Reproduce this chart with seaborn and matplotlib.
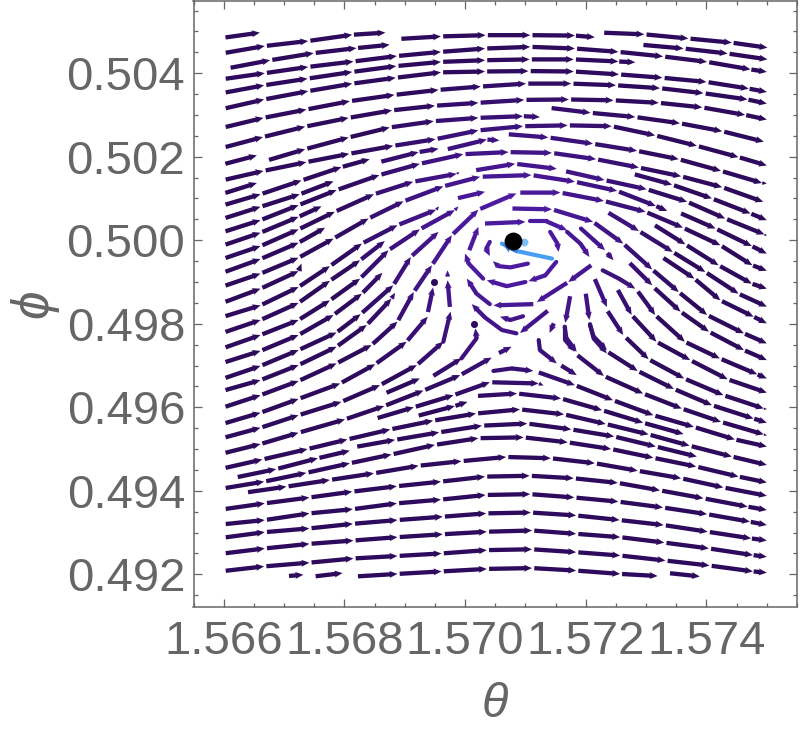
import numpy as np
import pandas as pd
import matplotlib
matplotlib.use("Agg")
import matplotlib.pyplot as plt
from matplotlib.ticker import MultipleLocator, FormatStrFormatter
from matplotlib.colors import to_rgb
import seaborn as sns

# Streamline readings: theta = 1.570 + t * 1e-3, phi = 0.500 + p * 1e-3
THETA0, PHI0, MILLI = 1.570, 0.500, 1e-3

# Chains: every consecutive pair of knots is one arrow
r01_t = [-4, -3.40]; r01_p = [4.85, 4.97]
r02_t = [-4, -3.32, -2.60, -1.87, -1.32]; r02_p = [4.48, 4.65, 4.77, 4.92, 4.97]
r03_t = [-3.92, -3.23, -2.51, -1.80, -1.25]; r03_p = [4.12, 4.31, 4.48, 4.60, 4.68]
r04_t = [-1.09, -.40, .34, 1.08, 1.82, 2.15]; r04_p = [4.82, 4.88, 4.91, 4.91, 4.90, 4.86]
r05_t = [2.27, 2.97, 3.70, 4.42, 5.01]; r05_p = [4.97, 4.93, 4.83, 4.73, 4.61]
r06_t = [-4, -3.32, -2.60, -1.85, -1.13, -.40, .33, 1.08, 1.82, 2.54, 3.28, 4.01, 4.73, 5.00]
r06_p = [3.86, 4.00, 4.15, 4.28, 4.41, 4.51, 4.59, 4.63, 4.59, 4.51, 4.40, 4.27, 4.09, 4.03]
r07_t = [2.92, 3.62, 4.35, 5.01]; r07_p = [4.68, 4.59, 4.47, 4.33]
r08_t = [-4, -3.33, -2.61, -1.87, -1.14, -.40, .33, 1.07, 1.80, 2.54, 2.82]
r08_p = [3.53, 3.71, 3.87, 4.03, 4.17, 4.27, 4.31, 4.33, 4.33, 4.28, 4.26]
r09_t = [-4, -3.33, -2.60, -1.87, -1.15, -.40, .33, 1.05, 1.80, 2.55, 3.27, 4.00, 4.70, 5.00]
r09_p = [3.15, 3.37, 3.57, 3.75, 3.89, 4.02, 4.04, 4.05, 4.04, 3.97, 3.89, 3.79, 3.63, 3.55]
r10_t = [-4, -3.34, -2.63, -1.91, -1.17, -.44, .26, 1.01, 1.76, 2.50, 3.23, 3.95, 4.68, 5.00]
r10_p = [2.70, 2.93, 3.13, 3.33, 3.48, 3.60, 3.68, 3.75, 3.75, 3.71, 3.64, 3.52, 3.37, 3.27]
r11_t = [-4, -3.35, -2.65, -1.93, -1.21, -.50, .22, .98, 1.72, 2.46, 3.21, 3.93, 4.64, 5.0]
r11_p = [2.22, 2.47, 2.72, 2.93, 3.11, 3.22, 3.29, 3.36, 3.37, 3.35, 3.29, 3.18, 3.00, 2.89]
r12_t = [-4, -3.45]; r12_p = [1.82, 2.03]
r13_t = [-3.28, -2.65, -1.93, -1.25, -.52, .22, .96, 1.24]
r13_p = [1.91, 2.18, 2.46, 2.70, 2.85, 2.93, 2.97, 2.95]
r14_t = [1.40, 2.08, 2.82, 3.56, 4.26, 4.95]; r14_p = [3.17, 3.05, 2.95, 2.80, 2.61, 2.36]
r15_t = [-4, -3.34, -2.63, -1.92, -1.19, -.49, .22, .96, 1.70, 2.43, 3.15, 3.84, 4.53, 5.00]
r15_p = [1.44, 1.66, 1.87, 2.07, 2.26, 2.42, 2.63, 2.73, 2.75, 2.73, 2.51, 2.26, 1.99, 1.79]
r16_t = [-4, -3.45]; r16_p = [1.12, 1.37]
a_t = [-4, -3.39, -2.71, -2.05, -1.58]; a_p = [.84, 1.10, 1.43, 1.75, 1.94]
b_t = [-4, -3.39, -2.74, -2.18]; b_p = [.52, .80, 1.10, 1.41]
c_t = [-4, -3.39, -2.76, -2.13, -1.42, -.75, -.03, .72, 1.44, 2.17, 2.88, 3.58, 4.26, 4.94]
c_p = [.20, .48, .84, 1.20, 1.56, 1.83, 2.06, 2.11, 2.09, 1.94, 1.74, 1.53, 1.27, .92]
d_t = [-4, -3.39, -2.76, -2.38]; d_p = [-.12, .18, .56, .81]
e_t = [-4, -3.39, -2.76, -2.16, -1.51, -.86, -.14, -.09]
e_p = [-.44, -.14, .26, .68, 1.10, 1.40, 1.59, 1.63]
f_t = [-4, -3.39, -2.76, -2.32]; f_p = [-.77, -.45, -.06, .30]
g_t = [-4, -3.39, -2.76, -2.18, -1.60, -1.02, -.36, .25, 1.10, 1.82, 2.52, 3.16, 3.35]
g_p = [-1.10, -.80, -.42, .04, .52, .93, 1.29, 1.52, 1.56, 1.40, 1.18, .82, .70]
h_t = [-4, -3.39, -2.76, -2.71]; h_p = [-1.49, -1.16, -.74, -.56]
i_t = [-4, -3.39, -2.76, -2.24, -1.71, -1.12, -.48, -.43]
i_p = [-1.83, -1.56, -1.12, -.62, -.08, .36, .73, .81]
j_t = [-4, -3.39, -2.76, -2.24, -1.74, -1.33]; j_p = [-2.21, -1.91, -1.50, -.97, -.48, -.02]
k_t = [-4, -3.39, -2.76, -2.24, -1.74, -1.27, -.75, -.17, -.11]
k_p = [-2.58, -2.27, -1.91, -1.44, -.92, -.24, .26, .72, .81]
l_t = [-4, -3.39, -2.76, -2.18, -1.71, -1.37]; l_p = [-2.93, -2.65, -2.27, -1.79, -1.28, -.78]
m_t = [-4, -3.39, -2.76, -2.13, -1.73, -1.19, -.90, -.44]
m_p = [-3.31, -3.01, -2.63, -2.21, -1.77, -1.08, -.40, .20]
n_t = [-4, -3.39, -2.76, -2.13, -1.63, -1.22, -1.16]
n_p = [-3.60, -3.35, -2.99, -2.55, -2.03, -1.40, -1.26]
o_t = [-4, -3.39, -2.76, -2.13, -1.55, -1.12, -.85, -.55, -.22, .22, .85]
o_p = [-4.00, -3.71, -3.37, -2.95, -2.51, -1.95, -1.24, -.60, .12, .73, 1.12]
q_t = [-4, -3.39, -2.76, -2.07, -1.49, -.97, -.62]
q_p = [-4.39, -4.13, -3.80, -3.43, -2.97, -2.43, -1.83]
q2_t = [-.62, -.53]; q2_p = [-1.75, -1.13]
s_t = [-4, -3.39, -2.76, -2.05, -1.41, -.80, -.36]
s_p = [-4.73, -4.49, -4.19, -3.87, -3.47, -2.99, -2.43]
s2_t = [-.25, -.29]; s2_p = [-1.63, -.96]
s3_t = [-.29, -.29]; s3_p = [-.88, -.72]
u_t = [-4, -3.39, -2.76, -1.99, -1.34, -.69, -.08, .44]
u_p = [-5.10, -4.88, -4.61, -4.29, -3.97, -3.60, -3.23, -2.81]
u2_t = [.55, .77]; u2_p = [-2.71, -2.55]
w_t = [-4, -3.36, -2.61, -1.95, -1.24, -.53, .18, .91, 1.64, 2.33, 3.04, 3.72, 4.42, 5.00]
w_p = [-5.46, -5.25, -5.00, -4.77, -4.53, -4.32, -4.15, -4.05, -4.17, -4.40, -4.65, -4.92, -5.18, -5.38]
y1_t = [-4, -3.33, -2.63, -1.91, -1.22, -.50, .22, .97, 1.70, 2.42, 3.12, 3.83, 4.53, 5.00]
y1_p = [-5.94, -5.78, -5.57, -5.34, -5.13, -4.90, -4.74, -4.72, -4.84, -5.00, -5.21, -5.42, -5.66, -5.80]
y2_t = [-3.80, -3.13, -2.44, -1.91]; y2_p = [-5.68, -5.48, -5.22, -5.04]
y3_t = [-3.63, -2.96, -2.24, -1.51, -.77, -.06, .68, 1.42, 2.15, 2.86, 3.58, 4.28, 5.00]
y3_p = [-6.04, -5.90, -5.74, -5.58, -5.40, -5.29, -5.19, -5.22, -5.34, -5.52, -5.70, -5.92, -6.12]
y4_t = [-4, -3.32, -2.58, -1.87, -1.13, -.40, .33, 1.07, 1.80, 2.53, 3.23, 3.95, 4.68, 5.00]
y4_p = [-6.44, -6.30, -6.16, -6.02, -5.89, -5.78, -5.66, -5.64, -5.70, -5.81, -5.99, -6.18, -6.38, -6.46]
y5_t = [-4, -3.32, -2.58, -1.86, -1.13, -.40, .34, 1.08, 1.81, 2.54, 3.28, 4.01, 4.72, 5.00]
y5_p = [-6.80, -6.70, -6.54, -6.44, -6.30, -6.21, -6.10, -6.08, -6.16, -6.26, -6.40, -6.56, -6.74, -6.82]
y6_t = [-4, -3.32, -2.58, -1.86, -1.12, -.37, .35, 1.09, 1.84, 2.56, 3.29, 4.02, 4.74, 5.00]
y6_p = [-7.12, -6.99, -6.90, -6.79, -6.70, -6.62, -6.54, -6.52, -6.59, -6.70, -6.82, -6.98, -7.14, -7.19]
y7_t = [-4, -3.32, -2.58, -1.85, -1.12, -.37, .36, 1.11, 1.84, 2.57, 3.30, 4.04, 4.77, 5.00]
y7_p = [-7.50, -7.38, -7.27, -7.19, -7.11, -7.04, -6.98, -6.95, -7.03, -7.11, -7.24, -7.38, -7.54, -7.58]
y8_t = [-4, -3.33, -2.58, -1.85, -1.12, -.39, .36, 1.11, 1.84, 2.57, 3.32, 4.05, 4.77, 5.00]
y8_p = [-7.92, -7.81, -7.72, -7.62, -7.56, -7.50, -7.42, -7.40, -7.47, -7.55, -7.67, -7.79, -7.93, -7.96]
y9_t = [-2.93, -2.68]; y9_p = [-8.04, -8.01]
y10_t = [-2.50, -2.03]; y10_p = [-8.05, -7.97]
y11_t = [-1.81, -1.12, -.39, .36, 1.11, 1.84, 2.57, 3.19]
y11_p = [-8.05, -7.99, -7.93, -7.87, -7.85, -7.91, -7.99, -8.04]
y12_t = [3.37, 3.89]; y12_p = [-7.97, -8.05]
v_t = [-1.82, -1.16, -.43, .28, 1.03, 1.76, 2.47, 3.16, 3.84]
v_p = [-4.95, -4.78, -4.60, -4.44, -4.39, -4.53, -4.70, -4.94, -5.18]
ad_t = [-1.33, -.75]; ad_p = [-3.67, -3.31]
ae_t = [-1.48, -.85, -.19, .41, 1.22, 1.30]; ae_p = [-4.27, -4.00, -3.71, -3.40, -3.43, -3.48]
af_t = [-.80, -.17, .04]; af_p = [-4.21, -3.97, -3.87]
ag_t = [.18, .86, 1.59, 2.27, 2.95, 3.62]; ag_p = [-3.73, -3.67, -3.79, -4.07, -4.37, -4.64]
ah_t = [-.55, -.06]; ah_p = [-3.27, -2.83]
bz2_t = [1.19, 1.82, 2.45, 3.12, 3.79, 4.47, 5.00]
bz2_p = [-3.15, -3.47, -3.83, -4.19, -4.47, -4.77, -4.94]
bz3_t = [1.58, 1.85]; bz3_p = [-2.99, -3.23]
bz4_t = [1.84, 2.30, 2.95, 3.59, 4.24, 4.95, 5.0]; bz4_p = [-2.73, -3.25, -3.67, -4.03, -4.35, -4.65, -4.68]
bz5_t = [2.35, 2.86, 3.46, 4.09, 4.78, 5.0]; bz5_p = [-2.66, -3.13, -3.56, -3.95, -4.27, -4.37]
bz6_t = [2.35, 2.62]; bz6_p = [-1.67, -2.27]
bz7_t = [2.65, 3.04, 3.63, 4.28, 4.95, 5.0]; bz7_p = [-2.31, -2.85, -3.31, -3.71, -4.03, -4.05]
b2_t = [2.52, 2.76, 3.17, 3.73, 4.35, 5.0]; b2_p = [-1.16, -1.79, -2.43, -2.87, -3.33, -3.65]
b3_t = [2.71, 3.10]; b3_p = [-.52, -1.08]
b3b_t = [3.12, 3.57, 4.04, 4.62, 5.0]; b3b_p = [-1.12, -1.71, -2.19, -2.63, -2.87]
b4_t = [2.85, 3.15, 3.64, 4.22, 4.84, 5.0]; b4_p = [-1.20, -1.79, -2.43, -2.83, -3.21, -3.31]
b7_t = [.75, 1.44, 2.12, 2.62, 3.10, 3.54, 4.01, 4.62, 5.0]
b7_p = [.76, .74, .44, -.08, -.70, -1.24, -1.79, -2.23, -2.47]
b8_t = [3.26, 3.80, 4.23, 4.78, 5.0]; b8_p = [-.40, -.92, -1.44, -1.83, -1.99]
b9_t = [3.12, 3.65, 4.20, 4.75, 5.0]; b9_p = [.38, -.10, -.60, -1.04, -1.16]
b10_t = [2.35, 2.88, 3.44, 3.98, 4.53, 5.0]; b10_p = [.68, .22, -.28, -.76, -1.28, -1.59]
c1_t = [.88, 1.58, 2.30, 2.99, 3.61, 4.23, 4.76, 5.0]; c1_p = [1.14, 1.14, .94, .68, .30, -.12, -.60, -.73]
c2_t = [-.14, .33]; c2_p = [1.0, 1.16]
c3_t = [.15, .83, 1.52]; c3_p = [1.67, 1.83, 1.71]
c4_t = [1.64, 2.31, 3.01, 3.68, 4.31, 4.96, 5.0]; c4_p = [1.66, 1.44, 1.22, .92, .52, .14, .10]
c5_t = [2.78, 3.43, 4.09, 4.73, 5.0]; c5_p = [1.59, 1.33, 1.00, .64, .48]
c6_t = [3.55, 4.15, 4.75, 5.0]; c6_p = [.66, .28, -.14, -.32]
c7_t = [2.35, 2.46]; c7_p = [-.30, -.48]
c8_t = [-1.42, -.77, -.44]; c8_p = [1.87, 2.11, 2.19]
c9_t = [-.32, .36, .57]; c9_p = [2.17, 2.41, 2.39]
c10_t = [.69, 1.38, 2.12, 2.85, 3.54, 4.24, 4.92, 5.0]; c10_p = [2.54, 2.46, 2.31, 2.14, 1.94, 1.66, 1.37, 1.36]

CHAINS = [(r01_t, r01_p), (r02_t, r02_p), (r03_t, r03_p), (r04_t, r04_p), (r05_t, r05_p), (r06_t, r06_p),
          (r07_t, r07_p), (r08_t, r08_p), (r09_t, r09_p), (r10_t, r10_p), (r11_t, r11_p), (r12_t, r12_p),
          (r13_t, r13_p), (r14_t, r14_p), (r15_t, r15_p), (r16_t, r16_p), (a_t, a_p), (b_t, b_p), (c_t, c_p),
          (d_t, d_p), (e_t, e_p), (f_t, f_p), (g_t, g_p), (h_t, h_p), (i_t, i_p), (j_t, j_p), (k_t, k_p),
          (l_t, l_p), (m_t, m_p), (n_t, n_p), (o_t, o_p), (q_t, q_p), (q2_t, q2_p), (s_t, s_p), (s2_t, s2_p),
          (s3_t, s3_p), (u_t, u_p), (u2_t, u2_p), (w_t, w_p), (y1_t, y1_p), (y2_t, y2_p), (y3_t, y3_p),
          (y4_t, y4_p), (y5_t, y5_p), (y6_t, y6_p), (y7_t, y7_p), (y8_t, y8_p), (y9_t, y9_p), (y10_t, y10_p),
          (y11_t, y11_p), (y12_t, y12_p), (v_t, v_p), (ad_t, ad_p), (ae_t, ae_p), (af_t, af_p), (ag_t, ag_p),
          (ah_t, ah_p), (bz2_t, bz2_p), (bz3_t, bz3_p), (bz4_t, bz4_p), (bz5_t, bz5_p), (bz6_t, bz6_p),
          (bz7_t, bz7_p), (b2_t, b2_p), (b3_t, b3_p), (b3b_t, b3b_p), (b4_t, b4_p), (b7_t, b7_p), (b8_t, b8_p),
          (b9_t, b9_p), (b10_t, b10_p), (c1_t, c1_p), (c2_t, c2_p), (c3_t, c3_p), (c4_t, c4_p), (c5_t, c5_p),
          (c6_t, c6_p), (c7_t, c7_p), (c8_t, c8_p), (c9_t, c9_p), (c10_t, c10_p)]

# Curved arrows: one polyline, one head at its end
CURVES = [
    ([.33, 1.00], [.40, .44]),
    ([1.07, 1.35, 1.69], [.45, .45, .24]),
    ([1.41, 1.53, 1.55], [.20, -.08, -.28]),
    ([1.51, 1.33, 1.05], [-.52, -.84, -.98]),
    ([1.04, .75, .55, .46], [-.56, -.65, -.62, -.50]),
    ([.41, .35, .41], [-.04, -.20, -.38]),
    ([1.0, .69, .36], [-1.0, -1.10, -.96]),
    ([.30, .06, 0], [-.92, -.56, -.32]),
    ([.07, .22], [-.24, .32]),
    ([1.69, 1.91, 2.06], [.20, -.08, -.40]),
    ([2.09, 1.71], [-.60, -1.0]),
    ([1.69, 1.19], [-1.02, -1.48]),
    ([1.13, .47], [-1.53, -1.56]),
    ([.41, .19, .03], [-1.53, -1.28, -.92]),
    ([.96, .75, .58], [-1.82, -1.91, -1.83]),
    ([1.37, .91], [-1.69, -2.22]),
    ([.85, .61, .33, .11], [-2.23, -2.15, -1.85, -1.53]),
    ([1.47, 1.40], [-1.99, -2.22]),
    ([1.74, 1.66], [-1.34, -1.98]),
    ([2.0, 2.06], [-1.28, -1.91]),
    ([1.65, 1.68, 1.85], [-2.07, -2.35, -2.67]),
    ([2.07, 2.13, 2.35], [-2.01, -2.35, -2.71]),
    ([2.15, 2.35], [-.93, -1.60]),
    ([1.22, 1.24, 1.52], [-2.39, -2.63, -2.95]),
    ([1.66, 1.66, 1.82], [-2.07, -2.39, -2.67]),
    ([2.07, 2.13, 2.35], [-2.03, -2.31, -2.63]),
    ([-.06, .19, .17], [-2.83, -2.35, -2.11]),
    ([-.36, -.28, -.24], [-2.43, -1.95, -1.71]),
    ([.47, .77, 1.13], [-3.13, -3.07, -3.13]),
    ([1.92, 2.12, 2.32], [.28, .02, -.24]),
    ([2.28, 2.55, 2.82], [-.72, -.92, -1.16]),
]

dot_t = [-.51, .15]; dot_p = [-1.00, -2.00]
blue_t = [1.44, .86, .61]; blue_p = [-.44, -.26, -.08]
pale_t = [.98]; pale_p = [-.04]
point_theta = [1.57079]; point_phi = [0.49998]
x_ticks = [1.566, 1.568, 1.570, 1.572, 1.574]
y_ticks = [0.492, 0.494, 0.496, 0.498, 0.500, 0.502, 0.504]

DARK, BRIGHT = "#2d0a5c", "#4c1a9e"
BLUE, BLUE_HEAD, PALE = "#4a9ef2", "#3a80de", "#7cc0fa"
GREY = "#666666"


def tone(t, p):
    dist = np.hypot((np.asarray(t) - .79) * 60.3, np.asarray(p) * 41.8)
    w = np.clip((dist - 45) / 130, 0, 1)[..., None]
    return (1 - w) * np.array(to_rgb(BRIGHT)) + w * np.array(to_rgb(DARK))


def to_theta(t):
    return THETA0 + np.asarray(t, float) * MILLI


def to_phi(p):
    return PHI0 + np.asarray(p, float) * MILLI


sns.set_style("white")
plt.rcParams["font.family"] = ["Liberation Sans", "DejaVu Sans"]

fig = plt.figure(figsize=(8, 7.34), dpi=100)
ax = fig.add_axes([193.5 / 800, 1 - 606.5 / 734, 603.5 / 800, 606 / 734])

# straight arrows
X, Y, U, V, C = [], [], [], [], []
GAP = 0.05
for tt, pp in CHAINS:
    tt = np.asarray(tt, float); pp = np.asarray(pp, float)
    dt, dp = np.diff(tt), np.diff(pp)
    X.extend(to_theta(tt[:-1] + GAP * dt)); Y.extend(to_phi(pp[:-1] + GAP * dp))
    U.extend(dt * (1 - GAP) * MILLI); V.extend(dp * (1 - GAP) * MILLI)
    C.extend(tone(tt[:-1] + dt / 2, pp[:-1] + dp / 2))

# curved arrows: the body as lines, the last stretch as an arrow
rows = []
palette = {}
for n, (tt, pp) in enumerate(CURVES):
    col = tuple(tone(np.mean(tt), np.mean(pp)))
    palette[n] = col
    if len(tt) > 2:
        for a, b in zip(tt[:-1], pp[:-1]):
            rows.append((n, to_theta(a), to_phi(b)))
    X.append(to_theta(tt[-2])); Y.append(to_phi(pp[-2]))
    U.append((tt[-1] - tt[-2]) * MILLI); V.append((pp[-1] - pp[-2]) * MILLI)
    C.append(np.array(col))
curve_df = pd.DataFrame(rows, columns=["piece", "theta", "phi"])
sns.lineplot(data=curve_df, x="theta", y="phi", hue="piece", units="piece", estimator=None, sort=False,
             palette={k: v for k, v in palette.items() if k in set(curve_df.piece)},
             lw=3.0, legend=False, ax=ax, zorder=3, solid_capstyle="round")

ax.quiver(X, Y, U, V, color=np.array(C), angles="xy", scale_units="xy", scale=1, units="dots",
          width=4.3, headwidth=1.65, headlength=1.9, headaxislength=1.7, minlength=0.6, zorder=3)

sns.scatterplot(x=to_theta(dot_t), y=to_phi(dot_p), s=26, color=DARK, linewidth=0, ax=ax, zorder=3)

# highlighted trajectory
sns.lineplot(x=to_theta(blue_t), y=to_phi(blue_p), sort=False, estimator=None, color=BLUE, lw=3.0,
             ax=ax, zorder=4)
ax.quiver(to_theta(blue_t[-2:-1]), to_phi(blue_p[-2:-1]),
          np.diff(blue_t[-2:]) * MILLI, np.diff(blue_p[-2:]) * MILLI, color=BLUE_HEAD, angles="xy",
          scale_units="xy", scale=1, units="dots", width=4.0, headwidth=2.4, headlength=2.4,
          headaxislength=2.2, zorder=4)
sns.scatterplot(x=to_theta(pale_t), y=to_phi(pale_p), s=32, color=PALE, linewidth=0, ax=ax, zorder=4)
sns.scatterplot(x=point_theta, y=point_phi, s=165, color="black", linewidth=0, ax=ax, zorder=5)

ax.set_xlim(1.5655, 1.5755)
ax.set_ylim(0.49123, 0.50574)
ax.set_xticks(x_ticks)
ax.set_yticks(y_ticks)
ax.xaxis.set_major_formatter(FormatStrFormatter("%.3f"))
ax.yaxis.set_major_formatter(FormatStrFormatter("%.3f"))
ax.xaxis.set_minor_locator(MultipleLocator(0.0005))
ax.yaxis.set_minor_locator(MultipleLocator(0.0005))
ax.tick_params(which="major", direction="in", length=5.5, width=0.9, color=GREY, top=True, right=True,
               bottom=True, left=True, labelsize=34, labelcolor=GREY, pad=6)
ax.tick_params(axis="x", which="major", pad=10)
ax.tick_params(which="minor", direction="in", length=3, width=0.9, color=GREY, top=True, right=True,
               bottom=True, left=True)
for spine in ax.spines.values():
    spine.set_color(GREY)
    spine.set_linewidth(1.1)
ax.set_xlabel("θ", fontsize=35, style="italic", color=GREY, labelpad=13)
ax.set_ylabel("ϕ", fontsize=37, style="italic", color=GREY, labelpad=6)

fig.savefig("out.png", dpi=100)
